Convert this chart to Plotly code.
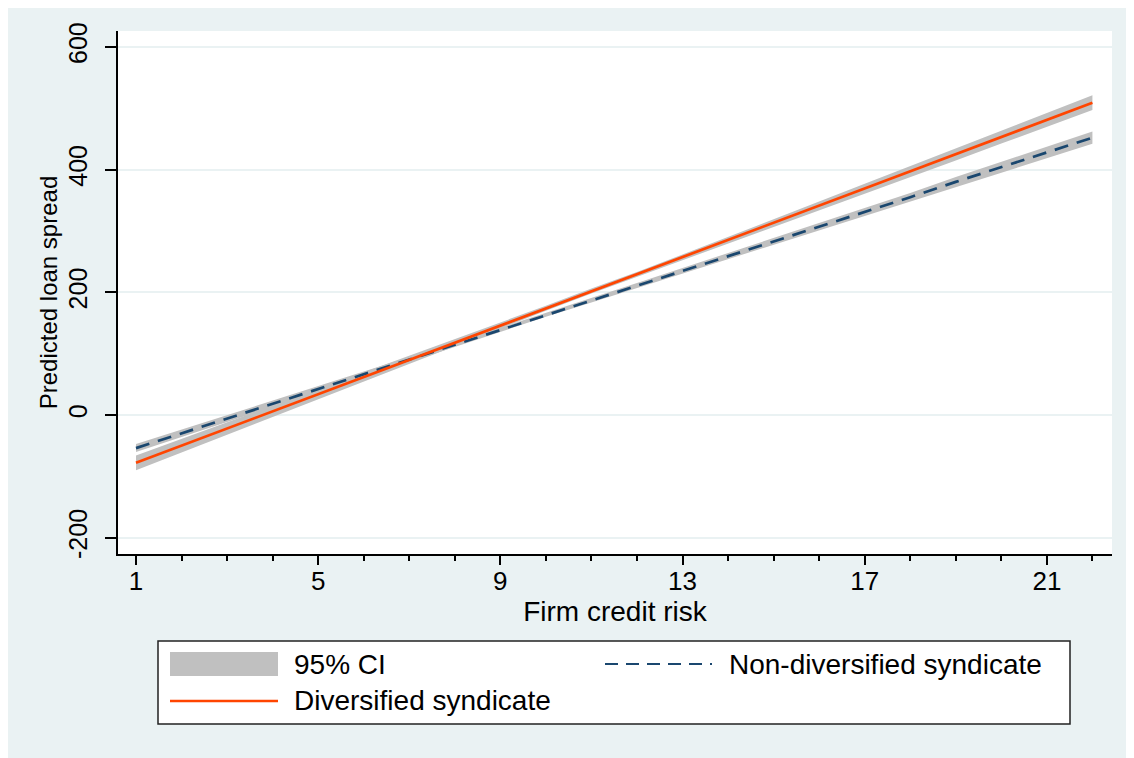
import plotly.graph_objects as go

# ---- data ----
credit_risk = [1, 2, 3, 4, 5, 6, 7, 8, 9, 10, 11, 12, 13, 14, 15, 16, 17, 18, 19, 20, 21, 22]

div_pred = [-78, -50, -22, 6, 34, 62, 90, 118, 146, 174, 202, 229, 257, 285, 313, 341, 369, 397, 425, 453, 481, 509]
div_lo = [-90, -61, -32, -3, 26, 55, 84, 113, 141.5, 170, 198, 225, 252.5, 280, 307, 334, 361, 388, 415, 442.5, 470, 497]
div_hi = [-66, -39, -12, 15, 42, 69, 96, 123, 150.5, 178, 206, 233, 261.5, 290, 319, 348, 377, 406, 435, 463.5, 492, 521]

nondiv_pred = [-54, -30, -6, 18, 42, 66, 91, 115, 139, 163, 187, 211, 235, 259, 283, 307, 331, 355, 380, 404, 428, 452]
nondiv_lo = [-60.5, -36, -11.5, 13, 37.5, 62, 87.5, 112, 136, 160, 183.5, 207, 230.5, 254, 277.5, 301, 324.5, 348, 372, 395.5, 419, 442]
nondiv_hi = [-47.5, -24, -0.5, 23, 46.5, 70, 94.5, 118, 142, 166, 190.5, 215, 239.5, 264, 288.5, 313, 337.5, 362, 388, 412.5, 437, 462]

x_ticks = [1, 5, 9, 13, 17, 21]
y_ticks = [-200, 0, 200, 400, 600]
y_tick_labels = ["-200", "0", "200", "400", "600"]

x_title = "Firm credit risk"
y_title = "Predicted loan spread"
legend_labels = ["95% CI", "Non-diversified syndicate", "Diversified syndicate"]

# ---- styles ----
BG = "#EAF2F3"
CI_COLOR = "#C0C0C0"
ORANGE = "#FF4500"
NAVY = "#1A476F"
FONT = "Liberation Sans, Arial, sans-serif"
DASH = "14px,9px"

# page body has an 8px margin; lay out in page coordinates minus that offset
OFF = 8
W, H = 1134 - OFF, 758 - OFF
PL, PT, PRt, PB = 118, 31, 1112, 554          # plot area in page coordinates
L, T = PL - OFF, PT - OFF
PW, PH = PRt - PL, PB - PT
R, B = W - L - PW, H - T - PH


def px(xp):
    return (xp - PL) / PW


def py(yp):
    return (PB - yp) / PH


fig = go.Figure()

# CI bands
for lo, hi in [(div_lo, div_hi), (nondiv_lo, nondiv_hi)]:
    fig.add_trace(go.Scatter(x=credit_risk, y=lo, mode="lines", line=dict(width=0),
                             showlegend=False, hoverinfo="skip"))
    fig.add_trace(go.Scatter(x=credit_risk, y=hi, mode="lines", line=dict(width=0),
                             fill="tonexty", fillcolor=CI_COLOR, showlegend=False, hoverinfo="skip"))

fig.add_trace(go.Scatter(x=credit_risk, y=nondiv_pred, mode="lines",
                         line=dict(color=NAVY, width=2.7, dash=DASH), showlegend=False))
fig.add_trace(go.Scatter(x=credit_risk, y=div_pred, mode="lines",
                         line=dict(color=ORANGE, width=2.7), showlegend=False))

shapes = [
    # legend box
    dict(type="rect", xref="paper", yref="paper", x0=px(158), x1=px(1070), y0=py(724), y1=py(641),
         fillcolor="white", line=dict(color="#222222", width=1.5)),
    # legend symbols
    dict(type="rect", xref="paper", yref="paper", x0=px(170), x1=px(278), y0=py(676), y1=py(652),
         fillcolor=CI_COLOR, line=dict(width=0)),
    dict(type="line", xref="paper", yref="paper", x0=px(605), x1=px(712), y0=py(664), y1=py(664),
         line=dict(color=NAVY, width=2, dash="13px,8px")),
    dict(type="line", xref="paper", yref="paper", x0=px(170), x1=px(278), y0=py(701), y1=py(701),
         line=dict(color=ORANGE, width=2.5)),
]

LEG_FONT = dict(size=28, color="black", family=FONT)
annotations = [
    dict(text=legend_labels[0], xref="paper", yref="paper", x=px(292), y=py(664),
         xanchor="left", yanchor="middle", showarrow=False, font=LEG_FONT),
    dict(text=legend_labels[1], xref="paper", yref="paper", x=px(727), y=py(664),
         xanchor="left", yanchor="middle", showarrow=False, font=LEG_FONT),
    dict(text=legend_labels[2], xref="paper", yref="paper", x=px(292), y=py(700),
         xanchor="left", yanchor="middle", showarrow=False, font=LEG_FONT),
]

fig.update_layout(
    width=W, height=H,
    margin=dict(l=L, r=R, t=T, b=B),
    paper_bgcolor=BG, plot_bgcolor="white",
    font=dict(family=FONT, color="black", size=24),
    shapes=shapes, annotations=annotations,
    showlegend=False,
)

fig.update_xaxes(
    range=[0.605, 22.43], tickvals=x_ticks, ticks="outside", ticklen=9, tickwidth=1.5, tickcolor="black",
    showline=True, linecolor="black", linewidth=1.5, showgrid=False, zeroline=False,
    tickfont=dict(size=26), ticklabelstandoff=-6,
    minor=dict(dtick=1, tick0=1, ticks="outside", ticklen=5, tickwidth=1.5, tickcolor="black", showgrid=False),
    title=dict(text=x_title, font=dict(size=28), standoff=4),
)
fig.update_yaxes(
    range=[-226.6, 625.9], tickvals=y_ticks, ticktext=y_tick_labels, ticks="outside", ticklen=11,
    tickwidth=1.5, tickcolor="black",
    showline=True, linecolor="black", linewidth=1.5, showgrid=True, gridcolor=BG, gridwidth=2,
    zeroline=False, tickangle=-90, tickfont=dict(size=25), ticklabelstandoff=8,
    title=dict(text=y_title, font=dict(size=24), standoff=0),
)

fig.write_html("out.html")
